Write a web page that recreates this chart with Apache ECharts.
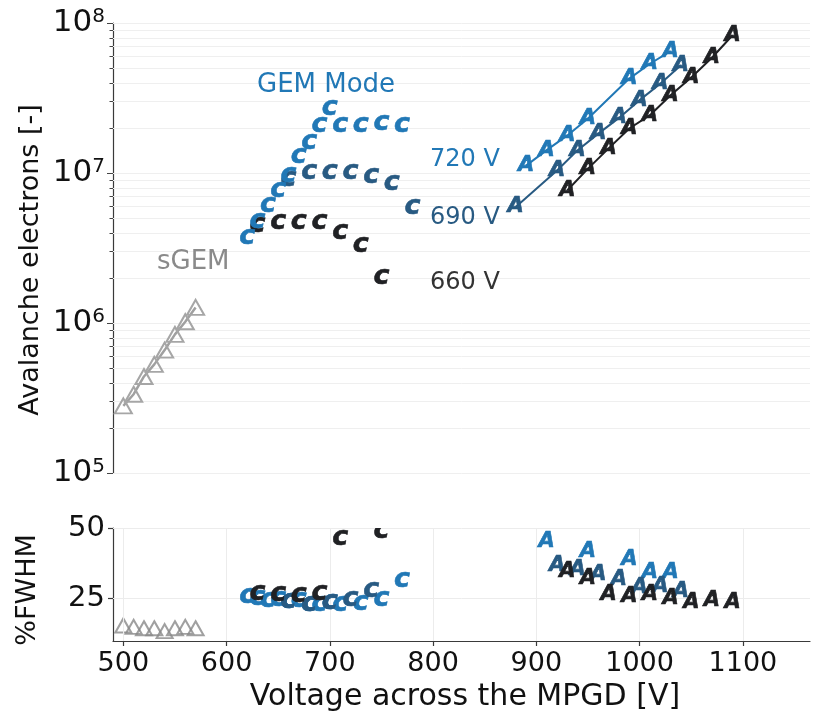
<!DOCTYPE html>
<html>
<head>
<meta charset="utf-8">
<script src="https://cdn.jsdelivr.net/npm/echarts@6/dist/echarts.min.js"></script>
<style>
  html, body { margin: 0; padding: 0; background: #fff; }
  #chart { width: 813px; height: 713px; }
</style>
</head>
<body>
<div id="chart"></div>
<script>
// Avalanche gain (top) and energy resolution (bottom) against the MPGD voltage

// sGEM reference
const sgemV    = [500, 510, 520, 530, 540, 550, 560, 570];
const sgemGain = [2.8e5, 3.35e5, 4.4e5, 5.3e5, 6.6e5, 8.4e5, 1.02e6, 1.27e6];
const sgemFwhm = [15.5, 15, 14.5, 14.5, 13.5, 14.5, 15, 14.5];

// GEM mode, three settings
const gem720V    = [620, 630, 640, 650, 660, 670, 680, 690, 700, 710, 730, 750, 770];
const gem720Gain = [3.65e6, 4.64e6, 5.93e6, 7.47e6, 9.4e6, 1.25e7, 1.57e7, 2.03e7, 2.62e7, 2.03e7, 2.03e7, 2.1e7, 2.03e7];
const gem720Fwhm = [25.4, 24.5, 23.8, 24, 23.5, 23.8, 22.5, 22.5, 23, 22.5, 22.8, 24, 31];

const gem690V    = [660, 680, 700, 720, 740, 760, 780];
const gem690Gain = [8.9e6, 9.9e6, 9.9e6, 9.9e6, 9.2e6, 8.3e6, 5.8e6];
const gem690Fwhm = [23.5, 22.3, 23, 24, 27.3, null, null];

const gem660V    = [630, 650, 670, 690, 710, 730, 750];
const gem660Gain = [4.37e6, 4.6e6, 4.6e6, 4.6e6, 3.94e6, 3.21e6, 1.98e6];
const gem660Fwhm = [26.3, 25.9, 25.5, 26.3, 45.8, null, 48.4];

// Amplification mode, three settings
const amp720V    = [890, 910, 930, 950, 990, 1010, 1030];
const amp720Gain = [1.12e7, 1.42e7, 1.78e7, 2.31e7, 4.26e7, 5.35e7, 6.5e7];
const amp720Fwhm = [null, 45.2, 53, 41.7, 39, 34.2, 34.2];

const amp690V    = [880, 920, 940, 960, 980, 1000, 1020, 1040];
const amp690Gain = [5.93e6, 1.04e7, 1.42e7, 1.83e7, 2.33e7, 3.06e7, 3.94e7, 5.22e7];
const amp690Fwhm = [null, 36.6, 35.2, 33.7, 31.9, 29, 29.2, 27.4];

const amp660V    = [930, 950, 970, 990, 1010, 1030, 1050, 1070, 1090];
const amp660Gain = [7.67e6, 1.07e7, 1.46e7, 1.98e7, 2.43e7, 3.3e7, 4.33e7, 5.87e7, 8.28e7];
const amp660Fwhm = [34.6, 32.2, 26.3, 25.9, 26.3, 25.1, 23.5, 24.2, 23.5];

// Axis ticks
const voltageTicks = [500, 600, 700, 800, 900, 1000, 1100];
const fwhmTicks = [25, 50];
const voltageRange = [490, 1165];
const gainRange = [1e5, 1e8];
const fwhmRange = [10, 50];

const C720 = '#2178b6';
const C690 = '#285a82';
const C660 = '#202124';
const FONT = 'DejaVu Sans';

function pairs(xs, ys) {
  const out = [];
  xs.forEach((x, i) => { if (ys[i] != null) out.push([x, ys[i]]); });
  return out;
}

// Markers drawn as italic letters
function letterSeries(xs, ys, ch, color, idx) {
  const size = ch === 'c' ? 27 : 21;
  const dy = ch === 'c' ? 2 : 0;
  return {
    type: 'custom',
    xAxisIndex: idx, yAxisIndex: idx,
    clip: true, z: 6, silent: true,
    data: pairs(xs, ys),
    encode: { x: 0, y: 1 },
    renderItem: (params, api) => {
      const p = api.coord([api.value(0), api.value(1)]);
      return {
        type: 'text', x: p[0], y: p[1] - dy,
        style: {
          text: ch, fill: color, stroke: color, lineWidth: 0.6,
          font: 'italic bold ' + size + 'px "' + FONT + '"',
          align: 'center', verticalAlign: 'middle'
        }
      };
    }
  };
}

function connectLine(xs, ys, color) {
  return {
    type: 'line', xAxisIndex: 0, yAxisIndex: 0, z: 4, silent: true,
    symbol: 'none', data: pairs(xs, ys),
    lineStyle: { color: color, width: 2 }
  };
}

// Log minor grid + ticks for the gain axis
const gainMinor = [];
for (let e = 5; e < 8; e++) for (let m = 1; m <= 9; m++) gainMinor.push(m * Math.pow(10, e));
gainMinor.push(1e8);

const minorGrid = {
  type: 'custom', xAxisIndex: 0, yAxisIndex: 0, z: 1, zlevel: 0, silent: true,
  data: gainMinor.map(v => [voltageRange[0], v]),
  encode: { x: 0, y: 1 },
  renderItem: (params, api) => {
    const cs = params.coordSys;
    const v = api.value(1);
    const y = Math.round(api.coord([voltageRange[0], v])[1]) + 0.5;
    const major = Math.abs(Math.log10(v) - Math.round(Math.log10(v))) < 1e-9;
    return {
      type: 'group', children: [
        { type: 'line', shape: { x1: cs.x, y1: y, x2: cs.x + cs.width, y2: y },
          style: { stroke: '#efefef', lineWidth: 1 } },
        { type: 'line', shape: { x1: cs.x - (major ? 6 : 3.5), y1: y, x2: cs.x, y2: y },
          style: { stroke: '#444', lineWidth: 1 } }
      ]
    };
  }
};

const chart = echarts.init(document.getElementById('chart'), null, { renderer: 'canvas' });

const axisLineStyle = { color: '#3a3a3a', width: 1.2 };

function label(text, x, y, size, color, rot, align) {
  return {
    type: 'text', x: x, y: y, z: 100, zlevel: 1, rotation: rot || 0, silent: true,
    style: { text: text, font: size + 'px "' + FONT + '"', fill: color,
             align: align || (rot ? 'center' : 'left'), verticalAlign: 'middle' }
  };
}

chart.setOption({
  animation: false,
  backgroundColor: '#fff',
  grid: [
    { left: 113, top: 23, width: 697, height: 450 },
    { left: 113, top: 528, width: 697, height: 113 }
  ],
  xAxis: [
    { gridIndex: 0, type: 'value', min: voltageRange[0], max: voltageRange[1], show: false },
    {
      gridIndex: 1, type: 'value', min: voltageRange[0], max: voltageRange[1],
      axisLine: { show: true, lineStyle: axisLineStyle, onZero: false },
      axisTick: { show: true, length: 5, lineStyle: axisLineStyle, customValues: voltageTicks },
      axisLabel: { customValues: voltageTicks, formatter: v => String(v),
                   fontFamily: FONT, fontSize: 27, color: '#111', margin: 9 },
      splitLine: { show: false }
    }
  ],
  yAxis: [
    {
      gridIndex: 0, type: 'log', logBase: 10, min: gainRange[0], max: gainRange[1],
      axisLine: { show: true, lineStyle: axisLineStyle },
      axisTick: { show: false },
      splitLine: { show: false },
      axisLabel: {
        margin: 8,
        formatter: v => '{b|10}{e|' + Math.round(Math.log10(v)) + '}',
        rich: {
          b: { fontFamily: FONT, fontSize: 31, color: '#111', lineHeight: 32 },
          e: { fontFamily: FONT, fontSize: 20, color: '#111', verticalAlign: 'top', lineHeight: 20 }
        }
      }
    },
    {
      gridIndex: 1, type: 'value', min: fwhmRange[0], max: fwhmRange[1],
      axisLine: { show: true, lineStyle: axisLineStyle },
      axisTick: { show: true, length: 5, lineStyle: axisLineStyle, customValues: fwhmTicks },
      axisLabel: { customValues: fwhmTicks, fontFamily: FONT, fontSize: 29, color: '#111', margin: 8 },
      splitLine: { show: false }
    }
  ],
  graphic: [
    label('Avalanche electrons [-]', 31, 260, 27, '#111', Math.PI / 2),
    label('%FWHM', 28, 590, 27, '#111', Math.PI / 2),
    label('Voltage across the MPGD [V]', 465, 697, 30, '#111', 0, 'center'),
    label('GEM Mode', 257, 85, 26, C720),
    label('sGEM', 157, 262, 26, '#8a8a8a'),
    label('720 V', 430, 160, 24, C720),
    label('690 V', 430, 218, 24, C690),
    label('660 V', 430, 283, 24, '#333')
  ],
  series: [
    minorGrid,
    {
      type: 'line', xAxisIndex: 0, yAxisIndex: 0, z: 3, silent: true,
      data: pairs(sgemV, sgemGain),
      symbol: 'triangle', symbolSize: [17, 15], showAllSymbol: true,
      lineStyle: { color: '#a0a0a0', width: 2.5 },
      itemStyle: { color: 'rgba(0,0,0,0)', borderColor: '#a6a6a6', borderWidth: 2 }
    },
    {
      type: 'scatter', xAxisIndex: 1, yAxisIndex: 1, z: 3, silent: true,
      data: pairs(sgemV, sgemFwhm),
      symbol: 'triangle', symbolSize: [16, 14],
      itemStyle: { color: 'rgba(0,0,0,0)', borderColor: '#888', borderWidth: 2 },
      markLine: {
        silent: true, symbol: ['none', 'none'], label: { show: false },
        lineStyle: { color: '#ececec', width: 1, type: 'solid' },
        data: voltageTicks.map(v => ({ xAxis: v })).concat(fwhmTicks.map(v => ({ yAxis: v })))
      }
    },
    connectLine(amp720V, amp720Gain, C720),
    connectLine(amp690V, amp690Gain, C690),
    connectLine(amp660V, amp660Gain, C660),
    letterSeries(gem660V, gem660Gain, 'c', C660, 0),
    letterSeries(gem690V, gem690Gain, 'c', C690, 0),
    letterSeries(gem720V, gem720Gain, 'c', C720, 0),
    letterSeries(amp720V, amp720Gain, 'A', C720, 0),
    letterSeries(amp690V, amp690Gain, 'A', C690, 0),
    letterSeries(amp660V, amp660Gain, 'A', C660, 0),
    letterSeries(gem720V, gem720Fwhm, 'c', C720, 1),
    letterSeries(gem690V, gem690Fwhm, 'c', C690, 1),
    letterSeries(gem660V, gem660Fwhm, 'c', C660, 1),
    letterSeries(amp720V, amp720Fwhm, 'A', C720, 1),
    letterSeries(amp690V, amp690Fwhm, 'A', C690, 1),
    letterSeries(amp660V, amp660Fwhm, 'A', C660, 1)
  ]
});
</script>
</body>
</html>
